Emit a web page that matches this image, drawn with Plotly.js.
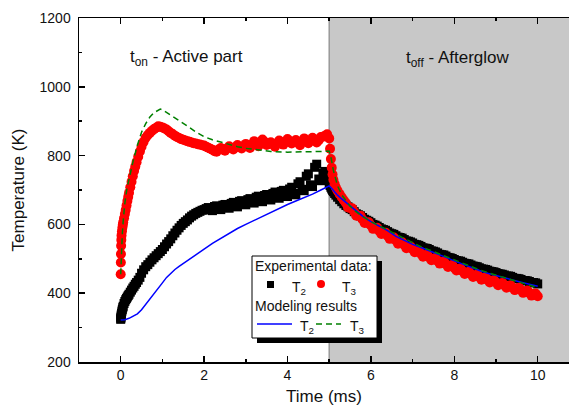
<!DOCTYPE html>
<html><head><meta charset="utf-8">
<script src="https://cdn.plot.ly/plotly-3.0.1.min.js"></script>
<style>html,body{margin:0;padding:0;background:#fff;overflow:hidden}</style>
</head><body><div id="chart" style="width:569px;height:409px"></div>
<script>
// ---- data ----
const tExp = [0,0.003,0.006,0.01,0.015,0.02,0.03,0.04,0.05,0.06,0.08,0.10,0.12,0.14,0.16,0.18,0.20,0.23,0.26,0.29,0.32,0.35,0.38,0.42,0.46,0.50,0.55,0.60,
  0.65,0.7,0.75,0.8,0.85,0.9,0.95,1.0,1.05,1.1,1.15,1.2,1.25,1.3,1.35,1.4,1.45,1.5,1.55,1.6,1.65,1.7,1.75,1.8,1.85,1.9,1.95,2.0,
  2.05,2.1,2.15,2.2,2.25,2.3,2.35,2.4,2.45,2.5,2.55,2.6,2.65,2.7,2.75,2.8,2.85,2.9,2.95,3.0,3.05,3.1,3.15,3.2,3.25,3.3,3.35,3.4,3.45,3.5,3.55,3.6,3.65,3.7,3.75,3.8,3.85,3.9,3.95,4.0,4.05,4.1,4.15,4.2,4.25,4.3,4.35,4.4,4.45,4.5,4.55,4.6,4.65,4.7,4.75,4.8,4.85,4.9,4.95,5.0,
  5.02,5.04,5.06,5.08,5.10,5.13,5.16,5.2,5.25,5.3,5.35,5.4,
  5.45,5.5,5.55,5.6,5.65,5.7,5.75,5.8,5.85,5.9,5.95,6.0,6.05,6.1,6.15,6.2,6.25,6.3,6.35,6.4,6.45,6.5,6.55,6.6,6.65,6.7,6.75,6.8,6.85,6.9,6.95,7.0,
  7.05,7.1,7.15,7.2,7.25,7.3,7.35,7.4,7.45,7.5,7.55,7.6,7.65,7.7,7.75,7.8,7.85,7.9,7.95,8.0,8.05,8.1,8.15,8.2,8.25,8.3,8.35,8.4,8.45,8.5,8.55,8.6,8.65,8.7,8.75,8.8,8.85,8.9,8.95,9.0,
  9.05,9.1,9.15,9.2,9.25,9.3,9.35,9.4,9.45,9.5,9.55,9.6,9.65,9.7,9.75,9.8,9.85,9.9,9.95,10.0];
const T2exp = [324,327,330,334,338,342,348,353,358,362,370,376,381,385,389,393,397,403,409,415,420,426,431,438,446,458,468,477,
  483,490,497,503,509,515,521,527,535,543,550,558,567,575,583,590,597,603,608,613,619,624,628,632,635,638,641,643,
  646,649,642,640,652,654,645,643,656,658,649,647,661,664,653,651,667,669,659,657,672,675,664,662,679,682,668,666,684,687,674,671,690,694,679,676,696,699,684,681,703,708,690,686,718,724,702,698,740,747,715,710,766,775,732,727,748,754,736,719,
  713,708,703,699,695,690,685,679,672,666,660,655,
  651,646,643,637,631,628,625,620,615,612,609,605,600,598,595,591,587,585,583,579,575,573,571,567,563,562,560,556,552,551,549,546,542,541,539,536,532,531,530,527,
  523,522,520,517,513,512,511,508,504,503,501,498,495,494,493,490,487,486,485,482,479,478,477,474,471,470,469,467,464,463,462,460,457,456,455,453,450,450,449,446,
  443,443,442,440,437,437,436,434,431,431,430,427];
const T3exp = [455,489,514,538,555,568,580,590,598,606,618,630,642,655,668,680,692,708,724,740,755,768,781,797,812,826,840,852,
  860,866,872,877,881,885,884,882,879,876,871,866,862,858,854,851,848,846,844,842,840,838,836,835,833,832,830,829,
  826,823,820,817,813,811,818,822,818,814,821,827,823,818,824,831,826,821,828,834,829,822,832,842,835,827,838,847,840,831,834,839,833,826,835,844,839,832,840,848,842,835,840,845,838,830,840,850,844,836,843,852,846,838,845,854,855,858,862,850,
  820,790,765,745,730,717,707,698,688,679,670,662,
  649,648,647,636,625,625,625,614,604,605,606,597,587,589,590,581,572,574,576,567,558,560,562,553,544,546,548,540,531,534,536,528,519,521,523,515,506,509,512,504,
  496,499,502,494,486,489,492,484,476,479,482,474,466,469,472,464,456,459,462,455,447,451,454,447,439,443,446,439,431,435,438,431,423,427,430,423,416,420,423,416,
  409,413,416,409,401,405,408,401,393,397,399,391];
const tMod2 = [0,0.1,0.2,0.3,0.4,0.5,0.6,0.7,0.8,0.9,1.0,1.1,1.2,1.3,1.4,1.6,1.8,2.0,2.2,2.4,2.6,2.8,3.0,3.2,3.4,3.6,3.8,4.0,4.2,4.4,4.6,4.8,4.9,5.0,5.05,5.1,5.2,5.3,5.4,5.5,5.6,5.8,6.0,6.2,6.4,6.6,6.8,7.0,7.2,7.4,7.6,7.8,8.0,8.2,8.4,8.6,8.8,9.0,9.2,9.4,9.6,9.8,10.0];
const T2mod = [322,323,327,333,340,352,367,383,398,414,430,446,459,469,478,494,512,528,545,560,574,588,600,612,624,636,648,658,668,677,688,700,706,712,706,698,685,674,664,652,642,624,608,595,582,565,553,542,533,524,515,504,494,484,474,466,458,451,445,438,432,426,420];
const tMod3 = [0,0.01,0.02,0.04,0.06,0.08,0.1,0.15,0.2,0.3,0.4,0.5,0.6,0.7,0.8,0.9,0.95,1.0,1.2,1.4,1.6,1.8,2.0,2.2,2.4,2.6,2.8,3.0,3.3,3.6,4.0,4.4,4.8,5.0,5.05,5.1,5.15,5.2,5.3,5.4,5.5,5.6,5.8,6.0,6.2,6.4,6.6,6.8,7.0,7.2,7.4,7.6,7.8,8.0,8.2,8.4,8.6,8.8,9.0,9.2,9.4,9.6,9.8,10.0];
const T3mod = [455,500,530,575,610,640,662,705,735,785,830,868,893,912,925,933,935,933,918,903,886,869,855,846,839,832,826,821,816,812,810,810,812,813,790,757,732,712,686,668,653,641,623,608,596,584,570,558,546,535,526,516,506,496,486,477,468,460,453,446,439,432,425,416];
const xTicks = [0,2,4,6,8,10];
const yTicks = [200,400,600,800,1000,1200];
const afterglowStart = 5;

// ---- layout helpers ----
const W=569,H=409,L=79,R=0,T=18,B=47;
const pw=W-L-R, ph=H-T-B;
const px = x => (x-L)/pw;
const py = y => (H-B-y)/ph;
const FONT = 'Arial, "Liberation Sans", sans-serif';

const traces = [
  {x:tExp, y:T2exp, type:'scatter', mode:'markers', name:'T2 exp',
   marker:{symbol:'square', size:9, color:'#000'}},
  {x:tExp, y:T3exp, type:'scatter', mode:'markers', name:'T3 exp',
   marker:{symbol:'circle', size:10, color:'#ff0000'}},
  {x:tMod2, y:T2mod, type:'scatter', mode:'lines', name:'T2 model',
   line:{color:'#0000ff', width:1.5}},
  {x:tMod3, y:T3mod, type:'scatter', mode:'lines', name:'T3 model',
   line:{color:'#008000', width:1.5, dash:'6px,4px'}}
];

const shapes = [
  {type:'rect', xref:'x', yref:'paper', x0:afterglowStart, x1:12, y0:0, y1:1,
   fillcolor:'#c8c8c8', line:{width:0}, layer:'below'},
  {type:'line', xref:'x', yref:'paper', x0:afterglowStart, x1:afterglowStart, y0:0, y1:1,
   line:{color:'#999', width:1.5}, layer:'below'},
  // legend
  {type:'rect', xref:'paper', yref:'paper', x0:px(257), x1:px(382), y0:py(343), y1:py(261),
   fillcolor:'#000', line:{width:0}},
  {type:'rect', xref:'paper', yref:'paper', x0:px(252), x1:px(377), y0:py(338), y1:py(256),
   fillcolor:'#fff', line:{color:'#000', width:1}},
  {type:'rect', xref:'paper', yref:'paper', x0:px(267), x1:px(274), y0:py(288), y1:py(281),
   fillcolor:'#000', line:{width:0}},
  {type:'circle', xref:'paper', yref:'paper', x0:px(317), x1:px(325), y0:py(288), y1:py(280),
   fillcolor:'#ff0000', line:{width:0}},
  {type:'line', xref:'paper', yref:'paper', x0:px(257), x1:px(292), y0:py(324), y1:py(324),
   line:{color:'#0000ff', width:1.5}},
  {type:'line', xref:'paper', yref:'paper', x0:px(316), x1:px(341), y0:py(324), y1:py(324),
   line:{color:'#008000', width:1.5, dash:'6px,4px'}}
];

function ann(text, x, y, size){
  return {text:text, xref:'paper', yref:'paper', x:px(x), y:py(y), xanchor:'left', yanchor:'middle',
    showarrow:false, font:{family:FONT, size:size, color:'#111'}, borderpad:0};
}
const annotations = [
  ann('Experimental data:', 254, 266, 14),
  ann('T<sub>2</sub>', 291, 288, 14),
  ann('T<sub>3</sub>', 341, 288, 14),
  ann('Modeling results', 254, 306, 14),
  ann('T<sub>2</sub>', 299, 327, 14),
  ann('T<sub>3</sub>', 349, 327, 14),
  ann('t<sub>on</sub> - Active part', 129, 58, 17),
  ann('t<sub>off</sub> - Afterglow', 405, 59, 17)
];

const axisCommon = {
  showline:true, linecolor:'#000', linewidth:1.5, ticks:'inside', ticklen:6, tickwidth:1.5, tickcolor:'#000',
  showgrid:false, zeroline:false, tickfont:{family:FONT, size:14, color:'#111'}
};

const layout = {
  width:W, height:H, margin:{l:L, r:R, t:T, b:B}, paper_bgcolor:'#fff', plot_bgcolor:'#fff',
  showlegend:false, font:{family:FONT, color:'#111'},
  xaxis: Object.assign({}, axisCommon, {range:[-1,10.75], tickvals:xTicks, mirror:'ticks',
    minor:{dtick:1, tick0:0, ticks:'inside', ticklen:3, tickwidth:1.5, tickcolor:'#000'},
    title:{text:'Time (ms)', font:{family:FONT, size:17, color:'#111'}, standoff:8}}),
  yaxis: Object.assign({}, axisCommon, {range:[200,1200], tickvals:yTicks, mirror:false,
    ticklabelstandoff:4,
    minor:{dtick:100, tick0:0, ticks:'inside', ticklen:3, tickwidth:1.5, tickcolor:'#000'},
    title:{text:'Temperature (K)', font:{family:FONT, size:17, color:'#111'}, standoff:10}}),
  shapes:shapes, annotations:annotations
};

Plotly.newPlot('chart', traces, layout, {displayModeBar:false, staticPlot:true});
</script></body></html>
